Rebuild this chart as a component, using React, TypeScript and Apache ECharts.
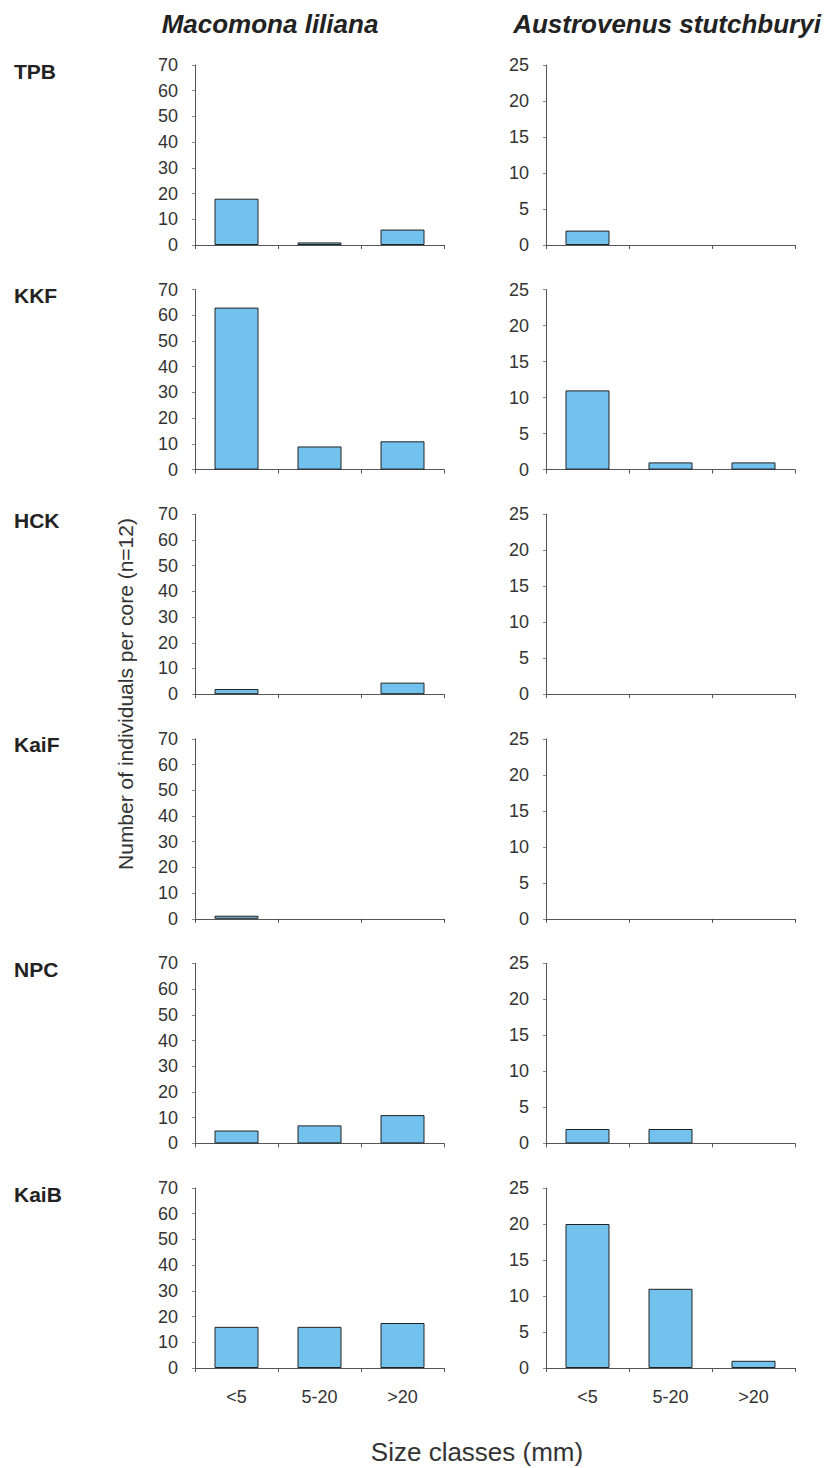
import React, { useEffect, useRef } from "react";
import * as echarts from "echarts";

const categories = ["<5", "5-20", ">20"];
const sites = ["TPB", "KKF", "HCK", "KaiF", "NPC", "KaiB"];
const speciesNames = ["Macomona liliana", "Austrovenus stutchburyi"];

// values per site (rows), per size class
const macomona = [
  [18, 1, 6],
  [63, 9, 11],
  [2, 0, 4.5],
  [1.2, 0, 0],
  [5, 7, 11],
  [16, 16, 17.5],
];
const austrovenus = [
  [2, 0, 0],
  [11, 1, 1],
  [0, 0, 0],
  [0, 0, 0],
  [2, 2, 0],
  [20, 11, 1],
];

const macomonaAxis = { max: 70, step: 10 };
const austrovenusAxis = { max: 25, step: 5 };

const yTitle = "Number of individuals per core (n=12)";
const xTitle = "Size classes (mm)";

const FONT = "'Liberation Sans', Arial, Helvetica, sans-serif";

export default function App() {
  const ref = useRef<HTMLDivElement>(null);
  useEffect(() => {
    if (!ref.current) return;
    const chart = echarts.init(ref.current, null, { renderer: "svg" });
    const grids: any[] = [];
    const xAxes: any[] = [];
    const yAxes: any[] = [];
    const series: any[] = [];
    const graphics: any[] = [];
    const datasets = [macomona, austrovenus];
    const axes = [macomonaAxis, austrovenusAxis];
    const colLeft = [195, 546];
    const rowTop = (i: number) => 65 + 224.6 * i;

    sites.forEach((site, i) => {
      datasets.forEach((data, j) => {
        const idx = grids.length;
        grids.push({ left: colLeft[j], top: rowTop(i), width: 249, height: 180 });
        xAxes.push({
          type: "category",
          gridIndex: idx,
          data: categories,
          axisLine: { show: true, lineStyle: { color: "#555", width: 1 } },
          axisTick: { show: true, length: 4, lineStyle: { color: "#555" } },
          axisLabel: {
            show: i === sites.length - 1,
            fontSize: 18,
            color: "#333",
            margin: 20,
            fontFamily: FONT,
          },
        });
        yAxes.push({
          type: "value",
          gridIndex: idx,
          min: 0,
          max: axes[j].max,
          interval: axes[j].step,
          axisLine: { show: true, lineStyle: { color: "#555", width: 1 } },
          axisTick: { show: true, length: 3, lineStyle: { color: "#888" } },
          splitLine: { show: false },
          axisLabel: { fontSize: 18, color: "#333", margin: 17, fontFamily: FONT },
        });
        series.push({
          type: "bar",
          name: `${speciesNames[j]} ${site}`,
          xAxisIndex: idx,
          yAxisIndex: idx,
          // zero counts draw no bar, as in the reference
          data: data[i].map((v) => (v === 0 ? "-" : v)),
          barWidth: 44,
          itemStyle: { color: "#73c2ee", borderColor: "#222", borderWidth: 1 },
        });
      });
      graphics.push({
        type: "text",
        x: 14,
        y: rowTop(i) + 6,
        style: {
          text: site,
          fontSize: 21,
          fontWeight: "bold",
          fontFamily: FONT,
          fill: "#222",
          textAlign: "left",
          textVerticalAlign: "middle",
          align: "left",
          verticalAlign: "middle",
        },
      });
    });

    [270, 667].forEach((cx, j) => {
      graphics.push({
        type: "text",
        x: cx,
        y: 24,
        style: {
          text: speciesNames[j],
          fontSize: 26,
          fontWeight: "bold",
          fontStyle: "italic",
          fontFamily: FONT,
          fill: "#222",
          textAlign: "center",
          textVerticalAlign: "middle",
          align: "center",
          verticalAlign: "middle",
        },
      });
    });

    graphics.push({
      type: "text",
      x: 125,
      y: 694,
      rotation: Math.PI / 2,
      style: {
        text: yTitle,
        fontSize: 21,
        fontFamily: FONT,
        fill: "#333",
        textAlign: "center",
        textVerticalAlign: "middle",
        align: "center",
        verticalAlign: "middle",
      },
    });
    graphics.push({
      type: "text",
      x: 477,
      y: 1452,
      style: {
        text: xTitle,
        fontSize: 26,
        fontFamily: FONT,
        fill: "#333",
        textAlign: "center",
        textVerticalAlign: "middle",
        align: "center",
        verticalAlign: "middle",
      },
    });

    chart.setOption({
      animation: false,
      backgroundColor: "#ffffff",
      grid: grids,
      xAxis: xAxes,
      yAxis: yAxes,
      series,
      graphic: graphics,
    });
    return () => chart.dispose();
  }, []);

  return (
    <div
      ref={ref}
      style={{ position: "absolute", left: 0, top: 0, width: 833, height: 1468 }}
    />
  );
}
